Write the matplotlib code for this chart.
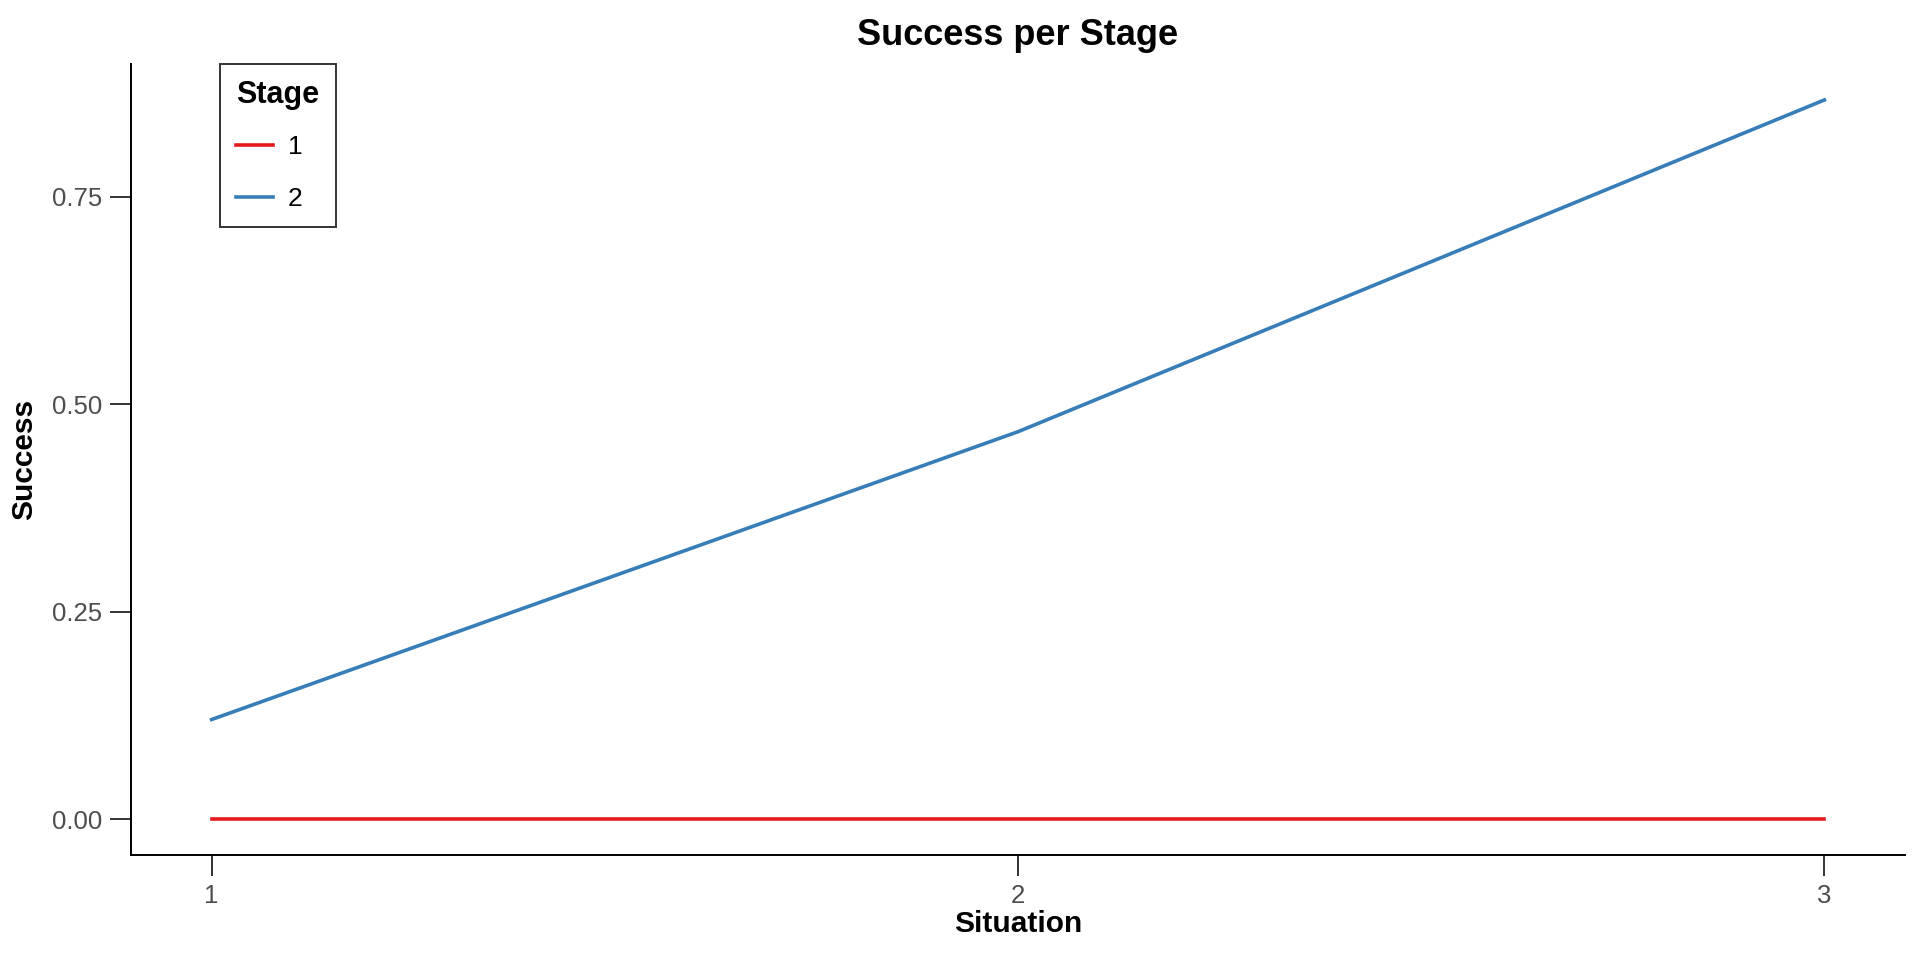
import matplotlib
matplotlib.use("Agg")
import matplotlib.pyplot as plt

# data
situation = [1, 2, 3]
stage_labels = ["1", "2"]
success_stage1 = [0.0, 0.0, 0.0]
success_stage2 = [0.12, 0.467, 0.867]
yticks = [0.00, 0.25, 0.50, 0.75]

plt.rcParams['font.family'] = ['Liberation Sans', 'DejaVu Sans']

fig = plt.figure(figsize=(19.2, 9.6), dpi=100)
ax = fig.add_axes([131 / 1920, 1 - 855 / 960, (1905 - 131) / 1920, (855 - 64) / 960])

ax.plot(situation, success_stage1, color="#E41A1C", lw=2.6, label=stage_labels[0])
ax.plot(situation, success_stage2, color="#377EB8", lw=2.6, label=stage_labels[1])

ax.set_xlim(0.9, 3.1)
ymax = max(success_stage2)
ax.set_ylim(-0.05 * ymax, 1.05 * ymax)
ax.set_xticks(situation)
ax.set_xticklabels([str(s) for s in situation])
ax.set_yticks(yticks)
ax.set_yticklabels([f"{v:.2f}" for v in yticks])

for side in ("top", "right"):
    ax.spines[side].set_visible(False)
for side in ("left", "bottom"):
    ax.spines[side].set_linewidth(1.4)
    ax.spines[side].set_color("black")
ax.tick_params(length=15, width=1.4, color="#333333", labelcolor="#4D4D4D",
               labelsize=18.5, pad=6)

ax.set_title("Success per Stage", fontsize=26, fontweight="bold", pad=14)
ax.set_xlabel("Situation", fontsize=21.5, fontweight="bold", labelpad=1)
ax.set_ylabel("Success", fontsize=21.5, fontweight="bold", labelpad=10)

# legend box sits flush with the top of the axes
leg = ax.legend(title="Stage", loc="upper left", bbox_to_anchor=((220 - 131) / 1774, 1.0),
                borderaxespad=0, frameon=True, fancybox=False, edgecolor="black", fontsize=19,
                title_fontproperties={"weight": "bold", "size": 22},
                handlelength=1.4, handletextpad=0.55, borderpad=0.62, labelspacing=1.05)
leg.get_frame().set_linewidth(1.4)
leg._legend_box.align = "left"
leg._legend_box.sep = 18

fig.savefig("out.png", dpi=100, facecolor="white")
